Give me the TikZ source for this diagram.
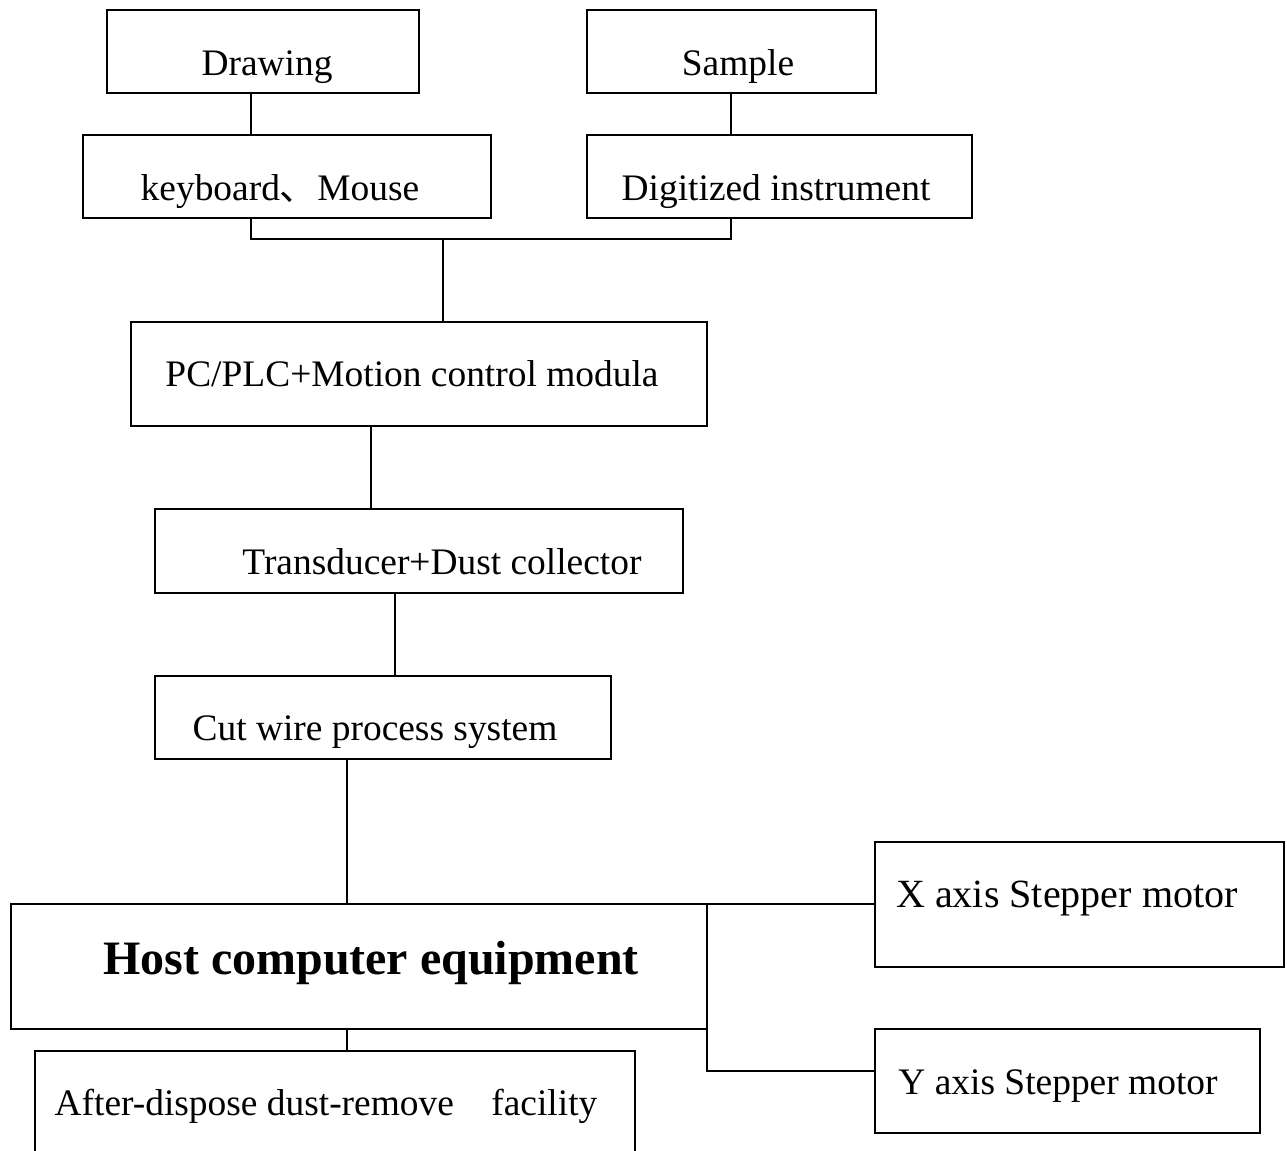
\documentclass[tikz,border=0pt]{standalone}
\usepackage{fontspec}
\setmainfont{Liberation Serif}
\newfontfamily\cjk{Noto Sans CJK SC}
\usetikzlibrary{fit}

\tikzset{
  caja/.style={draw, line width=1.1pt, inner sep=0pt, outer sep=0pt},
  texto/.style={anchor=base, inner sep=0pt, font=\fontsize{21.3}{25}\selectfont},
  enlace/.style={line width=1.1pt}
}

\begin{document}
\begin{tikzpicture}[x=0.02cm, y=-0.02cm]
        \clip (0,0) rectangle (1287,1151);

        % Entradas: dibujo y muestra
        \node[caja, fit={(107,10) (419,93)}] (dibujo) {};
        \node[texto] (tdibujo) at (267,76) {Drawing};
        \node[caja, fit={(587,10) (876,93)}] (muestra) {};
        \node[texto] (tmuestra) at (738,76) {Sample};

        % Teclado y digitalizador
        \node[caja, fit={(83,135) (491,218)}] (teclado) {};
        \node[texto] (tteclado) at (280,201) {keyboard{\cjk 、}Mouse};
        \node[caja, fit={(587,135) (972,218)}] (digital) {};
        \node[texto] (tdigital) at (776,201) {Digitized instrument};

        % Cadena de control
        \node[caja, fit={(131,322) (707,426)}] (pc) {};
        \node[texto] (tpc) at (412,387) {PC/PLC+Motion control modula};
        \node[caja, fit={(155,509) (683,593)}] (trans) {};
        \node[texto] (ttrans) at (442,574) {Transducer+Dust collector};
        \node[caja, fit={(155,676) (611,759)}] (corte) {};
        \node[texto] (tcorte) at (375,740) {Cut wire process system};

        % Equipo principal
        \node[caja, fit={(11,904) (707,1029)}] (host) {};
        \node[texto, font=\bfseries\fontsize{27.3}{32}\selectfont] (thost) at (371,974) {Host computer equipment};
        \node[caja, fit={(35,1051) (635,1190)}] (polvo) {};
        \node[texto] (tpolvo) at (326,1115) {After-dispose dust-remove\quad facility};

        % Motores paso a paso
        \node[caja, fit={(875,842) (1284,967)}] (motx) {};
        \node[texto, font=\fontsize{22.8}{27}\selectfont] (tmotx) at (1067,907) {X axis Stepper motor};
        \node[caja, fit={(875,1029) (1260,1133)}] (moty) {};
        \node[texto] (tmoty) at (1058,1094) {Y axis Stepper motor};

        % Puntos de union
        \coordinate (ui) at (251,239);
        \coordinate (ud) at (731,239);
        \coordinate (um) at (443,239);
        \coordinate (u1) at (371,0);
        \coordinate (u2) at (395,0);
        \coordinate (u3) at (347,0);
        \coordinate (uy) at (707,1071);

        % Conexiones
        \draw[enlace] (dibujo.south -| ui) -- (teclado.north -| ui);
        \draw[enlace] (muestra.south -| ud) -- (digital.north -| ud);
        \draw[enlace] (teclado.south -| ui) -- (ui) -- (ud) -- (digital.south -| ud);
        \draw[enlace] (um) -- (pc.north -| um);
        \draw[enlace] (pc.south -| u1) -- (trans.north -| u1);
        \draw[enlace] (trans.south -| u2) -- (corte.north -| u2);
        \draw[enlace] (corte.south -| u3) -- (host.north -| u3);
        \draw[enlace] (host.south -| u3) -- (polvo.north -| u3);
        \draw[enlace] (host.north east) -- (host.north east -| motx.west);
        \draw[enlace] (host.south east) -- (uy) -- (uy -| moty.west);

\end{tikzpicture}
\end{document}
